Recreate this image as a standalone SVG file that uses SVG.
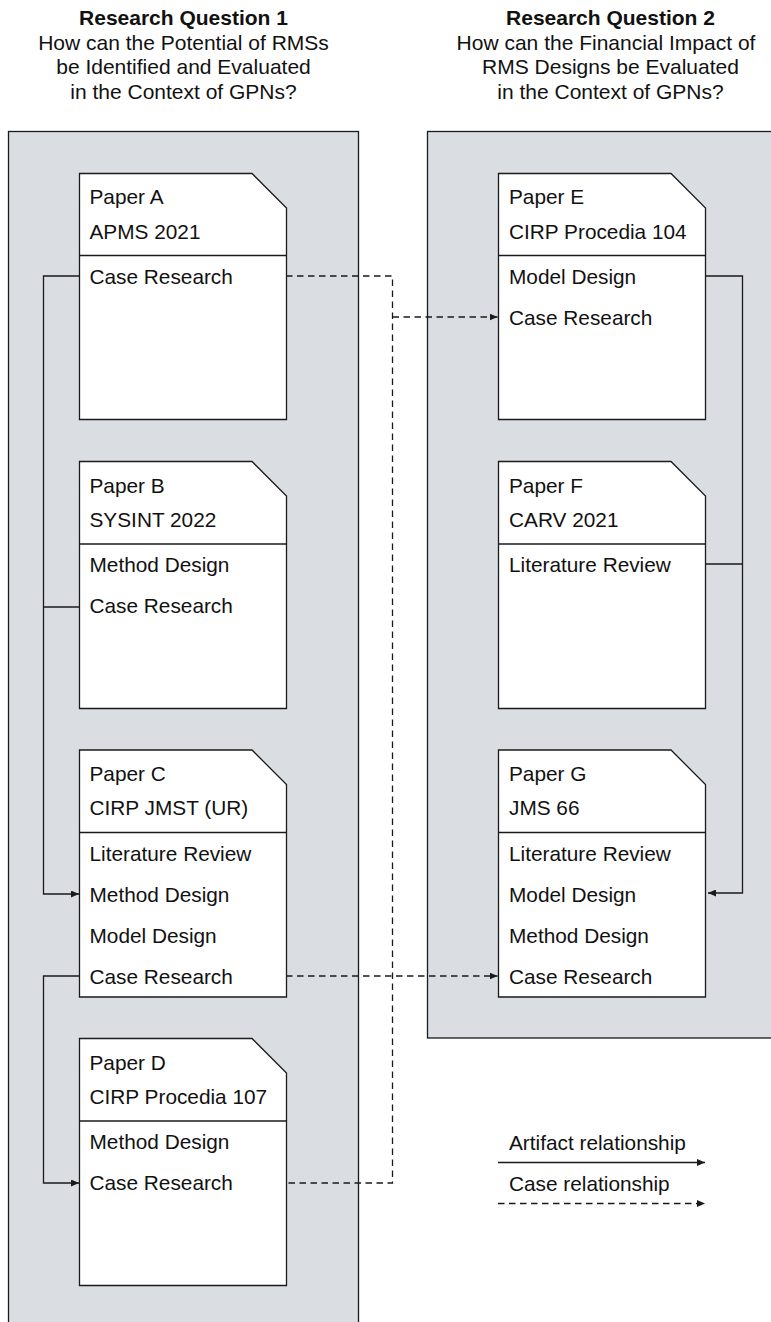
<svg xmlns="http://www.w3.org/2000/svg" width="771" height="1322" viewBox="0 0 771 1322">
<style>
.panel{fill:#DADDE2;stroke:#1a1a1a;stroke-width:1.3}
.box{fill:#ffffff;stroke:#1a1a1a;stroke-width:1.3}
.div{stroke:#1a1a1a;stroke-width:1.3}
.t{font-family:"Liberation Sans",Arial,sans-serif;font-size:20.8px;fill:#111}
.h{font-family:"Liberation Sans",Arial,sans-serif;font-size:21px;fill:#111;text-anchor:middle}
.hb{font-weight:bold}
.c{fill:none;stroke:#1a1a1a;stroke-width:1.3}
.d{fill:none;stroke:#1a1a1a;stroke-width:1.3;stroke-dasharray:6.5 4.5}
</style>
<defs>
<marker id="ah" viewBox="0 0 8 7" refX="8" refY="3.5" markerWidth="8" markerHeight="7" markerUnits="userSpaceOnUse" orient="auto">
<path d="M0,0 L8,3.5 L0,7 z" fill="#1a1a1a"/>
</marker>
</defs>

<g id="headings">
<text class="h hb" x="183.5" y="24.5">Research Question 1</text>
<text class="h" x="183.5" y="49.5">How can the Potential of RMSs</text>
<text class="h" x="183.5" y="74">be Identified and Evaluated</text>
<text class="h" x="183.5" y="98.5">in the Context of GPNs?</text>
<text class="h hb" x="610.5" y="24.5">Research Question 2</text>
<text class="h" x="606" y="49.5">How can the Financial Impact of</text>
<text class="h" x="610.5" y="74">RMS Designs be Evaluated</text>
<text class="h" x="610.5" y="98.5">in the Context of GPNs?</text>
</g>

<g id="panels">
<rect id="panel-rq1" class="panel" x="8.5" y="131.5" width="350" height="1210"/>
<rect id="panel-rq2" class="panel" x="427.5" y="131.5" width="360" height="906.5"/>
</g>

<g id="connectors">
<path class="c" d="M79,276 H43.5 V894 H79" marker-end="url(#ah)"/>
<path class="c" d="M79,607 H43.5"/>
<path class="c" d="M79,976 H43.5 V1183 H79" marker-end="url(#ah)"/>
<path class="c" d="M705,276 H742.5 V893 H708" marker-end="url(#ah)"/>
<path class="c" d="M705,564 H742.5"/>
<path class="d" d="M286,276 H392.5 V1183 H286"/>
<path class="d" d="M392.5,317 H497.5" marker-end="url(#ah)"/>
<path class="d" d="M286,976 H497.5" marker-end="url(#ah)"/>
</g>

<g id="paper-a">
<path class="box" d="M79.5,173.5 H252 L286.5,208 V419.5 H79.5 Z"/>
<line class="div" x1="79.5" y1="255.5" x2="286.5" y2="255.5"/>
<text class="t" x="89.5" y="204">Paper A</text>
<text class="t" x="89.5" y="238.5">APMS 2021</text>
<text class="t" x="89.5" y="284">Case Research</text>
</g>

<g id="paper-b">
<path class="box" d="M79.5,461.5 H252 L286.5,496 V708.5 H79.5 Z"/>
<line class="div" x1="79.5" y1="544" x2="286.5" y2="544"/>
<text class="t" x="89.5" y="492.5">Paper B</text>
<text class="t" x="89.5" y="526.5">SYSINT 2022</text>
<text class="t" x="89.5" y="572">Method Design</text>
<text class="t" x="89.5" y="613">Case Research</text>
</g>

<g id="paper-c">
<path class="box" d="M79.5,750 H252 L286.5,784.5 V997 H79.5 Z"/>
<line class="div" x1="79.5" y1="832.5" x2="286.5" y2="832.5"/>
<text class="t" x="89.5" y="781">Paper C</text>
<text class="t" x="89.5" y="815">CIRP JMST (UR)</text>
<text class="t" x="89.5" y="860.5">Literature Review</text>
<text class="t" x="89.5" y="901.5">Method Design</text>
<text class="t" x="89.5" y="942.5">Model Design</text>
<text class="t" x="89.5" y="983.5">Case Research</text>
</g>

<g id="paper-d">
<path class="box" d="M79.5,1038.5 H252 L286.5,1073 V1285.5 H79.5 Z"/>
<line class="div" x1="79.5" y1="1121" x2="286.5" y2="1121"/>
<text class="t" x="89.5" y="1069.5">Paper D</text>
<text class="t" x="89.5" y="1103.5">CIRP Procedia 107</text>
<text class="t" x="89.5" y="1149">Method Design</text>
<text class="t" x="89.5" y="1190">Case Research</text>
</g>

<g id="paper-e">
<path class="box" d="M498.5,173.5 H671 L705.5,208 V419.5 H498.5 Z"/>
<line class="div" x1="498.5" y1="255.5" x2="705.5" y2="255.5"/>
<text class="t" x="509" y="204">Paper E</text>
<text class="t" x="509" y="238.5">CIRP Procedia 104</text>
<text class="t" x="509" y="284">Model Design</text>
<text class="t" x="509" y="325">Case Research</text>
</g>

<g id="paper-f">
<path class="box" d="M498.5,461.5 H671 L705.5,496 V708.5 H498.5 Z"/>
<line class="div" x1="498.5" y1="544" x2="705.5" y2="544"/>
<text class="t" x="509" y="492.5">Paper F</text>
<text class="t" x="509" y="526.5">CARV 2021</text>
<text class="t" x="509" y="572">Literature Review</text>
</g>

<g id="paper-g">
<path class="box" d="M498.5,750 H671 L705.5,784.5 V997 H498.5 Z"/>
<line class="div" x1="498.5" y1="832.5" x2="705.5" y2="832.5"/>
<text class="t" x="509" y="781">Paper G</text>
<text class="t" x="509" y="815">JMS 66</text>
<text class="t" x="509" y="860.5">Literature Review</text>
<text class="t" x="509" y="901.5">Model Design</text>
<text class="t" x="509" y="942.5">Method Design</text>
<text class="t" x="509" y="983.5">Case Research</text>
</g>

<g id="legend">
<text class="t" x="509" y="1149.5">Artifact relationship</text>
<path class="c" d="M498,1162.5 H705" marker-end="url(#ah)"/>
<text class="t" x="509" y="1191">Case relationship</text>
<path class="d" d="M498,1203.5 H705" marker-end="url(#ah)"/>
</g>
</svg>
